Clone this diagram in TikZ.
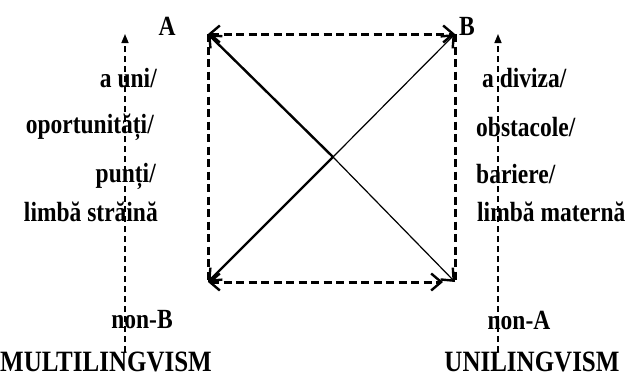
\documentclass[tikz,border=0pt]{standalone}
\usepackage{fontspec}
\setmainfont{Liberation Serif}
\usetikzlibrary{arrows.meta}
\newcommand{\tallt}[1]{\scalebox{1}[1.18]{#1}}
\begin{document}
\begin{tikzpicture}[x=1pt,y=-1pt,
  lbl/.style={font=\bfseries\fontsize{23.5}{23.5}\selectfont, inner sep=0pt},
  big/.style={font=\bfseries\fontsize{25}{25}\selectfont, inner sep=0pt},
  sq/.style={line width=3pt, dash pattern=on 8pt off 4.5pt},
  barb/.tip={Straight Barb[length=10pt,width=17pt,line width=2.4pt]},
  axis/.style={line width=1.5pt, dash pattern=on 6pt off 4pt, -{Triangle[length=9pt,width=7pt]}},
  thickd/.style={line width=2.4pt},
  thind/.style={line width=1.2pt}]
\useasboundingbox (0,0) rectangle (626,383);
% square corners
\coordinate (TL) at (208,34);
\coordinate (TR) at (455,34);
\coordinate (BL) at (208,282);
\coordinate (BR) at (455,282);
\coordinate (BRt) at (443,282);
\coordinate (C) at (333,157);
% sides
\draw[sq, barb-barb] (TL) -- (TR);
\draw[sq, barb-barb] (BL) -- (BRt);
\draw[sq] (TL) -- (BL);
\draw[sq] (TR) -- (BR);
% diagonals
\draw[thickd, -barb] (C) -- (TL);
\draw[thickd, -barb] (C) -- (BL);
\draw[thind, -barb] (C) -- (TR);
\draw[thind, -barb] (C) -- (BR);
% axes
\coordinate (La) at (125,352);
\coordinate (Lb) at (125,34);
\coordinate (Ra) at (498,352);
\coordinate (Rb) at (498,34);
\draw[axis] (La) -- (Lb);
\draw[axis] (Ra) -- (Rb);
% labels
\node[lbl] (A) at (167,26) {\tallt{A}};
\node[lbl] (B) at (467,26) {\tallt{B}};
\node[lbl, anchor=east] (l1) at (157,78) {\tallt{a uni/}};
\node[lbl, anchor=east] (l2) at (154,127) {\tallt{oportunități/}};
\node[lbl, anchor=east] (l3) at (156,176) {\tallt{punți/}};
\node[lbl, anchor=east] (l4) at (158,212) {\tallt{limbă străină}};
\node[lbl] (l5) at (142,320) {\tallt{non-B}};
\node[big] (l6) at (106,362) {\tallt{MULTILINGVISM}};
\node[lbl, anchor=west] (r1) at (482,78) {\tallt{a diviza/}};
\node[lbl, anchor=west] (r2) at (476,127) {\tallt{obstacole/}};
\node[lbl, anchor=west] (r3) at (476,174) {\tallt{bariere/}};
\node[lbl, anchor=west] (r4) at (477,212) {\tallt{limbă maternă}};
\node[lbl] (r5) at (519,320) {\tallt{non-A}};
\node[big] (r6) at (532,362) {\tallt{UNILINGVISM}};
\end{tikzpicture}
\end{document}
